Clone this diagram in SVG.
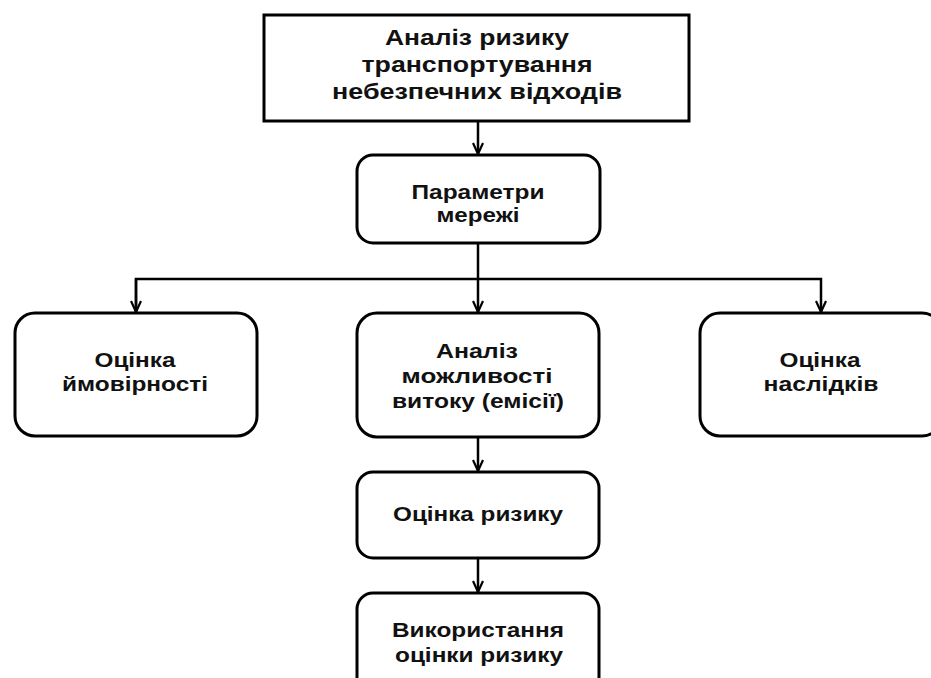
<svg xmlns="http://www.w3.org/2000/svg" width="931" height="678" viewBox="0 0 931 678">
<defs>
<style>
.box{fill:#fff;stroke:#000;stroke-width:3}
.t{font-family:"Liberation Sans",Arial,sans-serif;font-weight:bold;fill:#111;text-anchor:middle}
.t1{font-size:22px}
.t2{font-size:20px}
.c{fill:none;stroke:#000;stroke-width:2.5}
</style>
<marker id="ah" markerWidth="14" markerHeight="12" refX="12" refY="6" orient="auto" markerUnits="userSpaceOnUse">
<path d="M1,1 L12,6 L1,11" fill="none" stroke="#000" stroke-width="2.2"/>
</marker>
</defs>
<rect width="931" height="678" fill="#fff"/>
<g id="connectors">
<path class="c" d="M478,121 V154" marker-end="url(#ah)"/>
<path class="c" d="M478,243 V312" marker-end="url(#ah)"/>
<path class="c" d="M136,312 V279 H821 V312" marker-end="url(#ah)"/>
<path class="c" d="M136,279 V312" marker-end="url(#ah)"/>
<path class="c" d="M478,437 V471" marker-end="url(#ah)"/>
<path class="c" d="M478,558 V592" marker-end="url(#ah)"/>
</g>
<g id="n1">
<rect class="box" x="264" y="15" width="425" height="106"/>
<text class="t t1" x="477" y="45" textLength="184" lengthAdjust="spacingAndGlyphs">Аналіз ризику</text>
<text class="t t1" x="477" y="72" textLength="231" lengthAdjust="spacingAndGlyphs">транспортування</text>
<text class="t t1" x="477" y="99" textLength="290" lengthAdjust="spacingAndGlyphs">небезпечних відходів</text>
</g>
<g id="n2">
<rect class="box" x="357" y="155" width="243" height="88" rx="16"/>
<text class="t t2" x="478" y="199" textLength="133" lengthAdjust="spacingAndGlyphs">Параметри</text>
<text class="t t2" x="478" y="222" textLength="83" lengthAdjust="spacingAndGlyphs">мережі</text>
</g>
<g id="n3">
<rect class="box" x="15" y="313" width="242" height="123" rx="20"/>
<text class="t t2" x="135" y="367" textLength="81" lengthAdjust="spacingAndGlyphs">Оцінка</text>
<text class="t t2" x="135" y="391" textLength="146" lengthAdjust="spacingAndGlyphs">ймовірності</text>
</g>
<g id="n4">
<rect class="box" x="357" y="313" width="242" height="124" rx="20"/>
<text class="t t2" x="477" y="358" textLength="82" lengthAdjust="spacingAndGlyphs">Аналіз</text>
<text class="t t2" x="477" y="383" textLength="151" lengthAdjust="spacingAndGlyphs">можливості</text>
<text class="t t2" x="478" y="408" textLength="172" lengthAdjust="spacingAndGlyphs">витоку (емісії)</text>
</g>
<g id="n5">
<rect class="box" x="700" y="313" width="242" height="123" rx="20"/>
<text class="t t2" x="820" y="367" textLength="81" lengthAdjust="spacingAndGlyphs">Оцінка</text>
<text class="t t2" x="821" y="391" textLength="115" lengthAdjust="spacingAndGlyphs">наслідків</text>
</g>
<g id="n6">
<rect class="box" x="357" y="472" width="242" height="86" rx="16"/>
<text class="t t2" x="478" y="521" textLength="170" lengthAdjust="spacingAndGlyphs">Оцінка ризику</text>
</g>
<g id="n7">
<rect class="box" x="357" y="593" width="242" height="100" rx="16"/>
<text class="t t2" x="478" y="637" textLength="172" lengthAdjust="spacingAndGlyphs">Використання</text>
<text class="t t2" x="479" y="662" textLength="168" lengthAdjust="spacingAndGlyphs">оцінки ризику</text>
</g>
</svg>
